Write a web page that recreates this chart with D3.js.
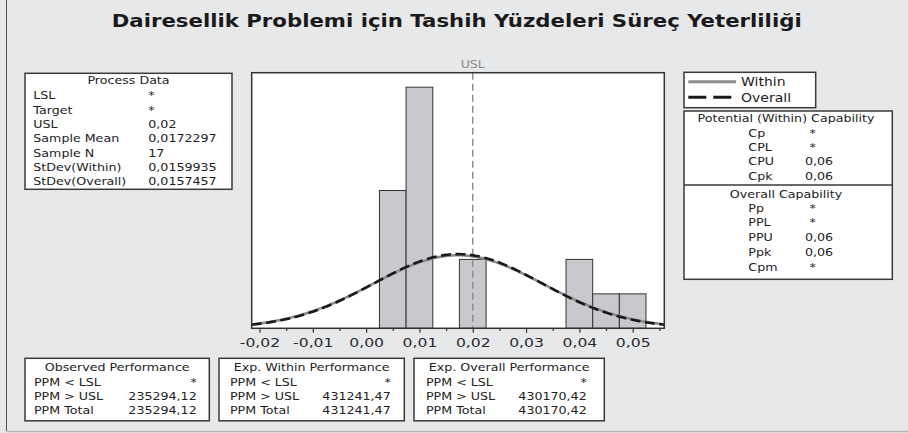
<!DOCTYPE html>
<html>
<head>
<meta charset="utf-8">
<script src="https://cdn.jsdelivr.net/npm/d3@7/dist/d3.min.js"></script>
<style>
  html,body{margin:0;padding:0;background:#e7e8ea;}
  svg{display:block;font-family:"DejaVu Sans",Verdana,sans-serif;}
</style>
</head>
<body>
<svg id="chart" width="908" height="433"></svg>
<script>
// ---------- data ----------
const titleText = "Dairesellik Problemi için Tashih Yüzdeleri Süreç Yeterliliği";
const binMids = [0.005, 0.010, 0.020, 0.040, 0.045, 0.050];
const binCounts = [4, 7, 2, 2, 1, 1];
const binWidth = 0.005;
const usl = 0.02;
const sampleMean = 0.0172297;
const sampleN = 17;
const sdWithin = 0.0159935;
const sdOverall = 0.0157457;
const majorTicks = [-0.02, -0.01, 0.00, 0.01, 0.02, 0.03, 0.04, 0.05];
const majorTickLabels = ["-0,02", "-0,01", "0,00", "0,01", "0,02", "0,03", "0,04", "0,05"];
const minorTicks = [-0.015, -0.005, 0.005, 0.015, 0.025, 0.035, 0.045, 0.055];
const xDomain = [-0.02146, 0.05593];

const processLabels = ["LSL", "Target", "USL", "Sample Mean", "Sample N", "StDev(Within)", "StDev(Overall)"];
const processValues = ["*", "*", "0,02", "0,0172297", "17", "0,0159935", "0,0157457"];

const withinLabels = ["Cp", "CPL", "CPU", "Cpk"];
const withinValues = ["*", "*", "0,06", "0,06"];
const overallLabels = ["Pp", "PPL", "PPU", "Ppk", "Cpm"];
const overallValues = ["*", "*", "0,06", "0,06", "*"];

const perfTitles = ["Observed Performance", "Exp. Within Performance", "Exp. Overall Performance"];
const perfLabels = ["PPM < LSL", "PPM > USL", "PPM Total"];
const perfValues = [
  ["*", "235294,12", "235294,12"],
  ["*", "431241,47", "431241,47"],
  ["*", "430170,42", "430170,42"]
];
const legendLabels = ["Within", "Overall"];

// ---------- helpers ----------
const svg = d3.select("#chart");
const INK = "#222";
const BOXC = "#3a3a3a";

function stext(sel, x, y, str, o = {}) {
  const g = sel.append("g").attr("transform", `translate(${x},${y}) scale(${o.sx || 1.15},1)`);
  return g.append("text")
    .attr("text-anchor", o.anchor || "start")
    .attr("font-size", o.size || 11)
    .attr("font-weight", o.weight || "normal")
    .attr("fill", o.fill || INK)
    .text(str);
}
function box(x, y, w, h) {
  svg.append("rect").attr("x", x).attr("y", y).attr("width", w).attr("height", h)
    .attr("fill", "#fff").attr("stroke", BOXC).attr("stroke-width", 1.5);
}

// page border lines
svg.append("line").attr("x1", 6.5).attr("x2", 6.5).attr("y1", 0).attr("y2", 431)
  .attr("stroke", "#555").attr("stroke-width", 1);
svg.append("line").attr("x1", 6.5).attr("x2", 908).attr("y1", 431.5).attr("y2", 431.5)
  .attr("stroke", "#b5b5b5").attr("stroke-width", 1.5);

// title
svg.append("text").attr("x", 111.7).attr("y", 26.7)
  .attr("font-size", 18.5).attr("font-weight", "bold").attr("fill", "#1a1a1a")
  .attr("textLength", 690).attr("lengthAdjust", "spacingAndGlyphs")
  .text(titleText);

// ---------- histogram ----------
const plot = {left: 251.7, top: 72.7, right: 664.3, bottom: 328.3};
const x = d3.scaleLinear().domain(xDomain).range([plot.left, plot.right]);
const y = d3.scaleLinear().domain([0, d3.max(binCounts) * 1.06]).range([plot.bottom, plot.top]);

svg.append("rect").attr("x", plot.left).attr("y", plot.top)
  .attr("width", plot.right - plot.left).attr("height", plot.bottom - plot.top)
  .attr("fill", "#fff");

svg.append("defs").append("clipPath").attr("id", "clip")
  .append("rect").attr("x", plot.left).attr("y", plot.top)
  .attr("width", plot.right - plot.left).attr("height", plot.bottom - plot.top);

svg.append("g").selectAll("rect").data(binMids).join("rect")
  .attr("x", (d) => x(d - binWidth / 2))
  .attr("width", (d) => x(d + binWidth / 2) - x(d - binWidth / 2))
  .attr("y", (d, i) => y(binCounts[i]))
  .attr("height", (d, i) => y(0) - y(binCounts[i]))
  .attr("fill", "#c8c9cc").attr("stroke", "#333").attr("stroke-width", 1);

// USL line
svg.append("line").attr("x1", x(usl)).attr("x2", x(usl)).attr("y1", plot.top).attr("y2", plot.bottom)
  .attr("stroke", "#8a8a8a").attr("stroke-width", 1.4).attr("stroke-dasharray", "7,4");
stext(svg, x(usl), 68.3, "USL", {anchor: "middle", size: 10.5, fill: "#8a8a8a", sx: 1.2});

// normal curves from the stated parameters
function normalCurve(mu, sd) {
  const scale = sampleN * binWidth;
  const pts = d3.range(0, 241).map(i => {
    const xv = xDomain[0] + (xDomain[1] - xDomain[0]) * i / 240;
    const z = (xv - mu) / sd;
    return [xv, scale * Math.exp(-0.5 * z * z) / (sd * Math.sqrt(2 * Math.PI))];
  });
  return pts;
}
const line = d3.line().x(d => x(d[0])).y(d => y(d[1]));
const cg = svg.append("g").attr("clip-path", "url(#clip)");
cg.append("path").attr("d", line(normalCurve(sampleMean, sdWithin)))
  .attr("fill", "none").attr("stroke", "#8c8c8c").attr("stroke-width", 2.6);
cg.append("path").attr("d", line(normalCurve(sampleMean, sdOverall)))
  .attr("fill", "none").attr("stroke", "#1a1a1a").attr("stroke-width", 2.6)
  .attr("stroke-dasharray", "10,4.5");

// frame
svg.append("rect").attr("x", plot.left).attr("y", plot.top)
  .attr("width", plot.right - plot.left).attr("height", plot.bottom - plot.top)
  .attr("fill", "none").attr("stroke", "#333").attr("stroke-width", 1.5);

// axes
const ax = svg.append("g").attr("transform", `translate(0,${plot.bottom})`)
  .call(d3.axisBottom(x).tickValues(majorTicks).tickSize(4.5).tickSizeOuter(0)
    .tickFormat((d, i) => majorTickLabels[i]));
ax.select(".domain").remove();
ax.selectAll(".tick line").attr("stroke", "#333").attr("stroke-width", 1.2);
ax.selectAll(".tick text").attr("y", 19).attr("dy", 0)
  .attr("font-family", "DejaVu Sans, Verdana, sans-serif")
  .attr("font-size", 12.5).attr("fill", "#2a2a2a")
  .attr("transform", "scale(1.25,1)");
const axm = svg.append("g").attr("transform", `translate(0,${plot.bottom})`)
  .call(d3.axisBottom(x).tickValues(minorTicks).tickSize(2.8).tickSizeOuter(0).tickFormat(""));
axm.select(".domain").remove();
axm.selectAll(".tick line").attr("stroke", "#333").attr("stroke-width", 1.2);

// ---------- Process Data box ----------
box(25, 73.3, 207, 116);
stext(svg, 128.5, 84.3, "Process Data", {anchor: "middle"});
processLabels.forEach((t, i) => {
  const yy = 99.3 + i * 14.3;
  stext(svg, 33.3, yy, t);
  stext(svg, 148.3, yy, processValues[i]);
});

// ---------- legend ----------
box(684, 72.3, 131.7, 35.4);
svg.append("line").attr("x1", 688.3).attr("x2", 736).attr("y1", 81.7).attr("y2", 81.7)
  .attr("stroke", "#8c8c8c").attr("stroke-width", 3);
svg.append("line").attr("x1", 688.3).attr("x2", 736).attr("y1", 97.3).attr("y2", 97.3)
  .attr("stroke", "#1a1a1a").attr("stroke-width", 3).attr("stroke-dasharray", "18,7");
stext(svg, 741, 85.8, legendLabels[0], {size: 11.5, sx: 1.22});
stext(svg, 741, 101.5, legendLabels[1], {size: 11.5, sx: 1.22});

// ---------- capability box ----------
box(684, 111, 208.3, 168.3);
svg.append("line").attr("x1", 684).attr("x2", 892.3).attr("y1", 185).attr("y2", 185)
  .attr("stroke", BOXC).attr("stroke-width", 1.5);
stext(svg, 786, 122.3, "Potential (Within) Capability", {anchor: "middle"});
withinLabels.forEach((t, i) => {
  const yy = 136.7 + i * 14.3;
  stext(svg, 748.3, yy, t);
  stext(svg, withinValues[i] === "*" ? 809.5 : 805, yy, withinValues[i]);
});
stext(svg, 786, 197.7, "Overall Capability", {anchor: "middle"});
overallLabels.forEach((t, i) => {
  const yy = 211.7 + i * 14.7;
  stext(svg, 748.3, yy, t);
  stext(svg, overallValues[i] === "*" ? 809.5 : 805, yy, overallValues[i]);
});

// ---------- performance boxes ----------
const perfBoxes = [
  {x: 25, w: 184.3, lx: 34, vx: 196.7},
  {x: 219, w: 185.3, lx: 230, vx: 390.7},
  {x: 414, w: 190.3, lx: 426, vx: 586.7}
];
perfBoxes.forEach((b, k) => {
  box(b.x, 358.3, b.w, 62.5);
  stext(svg, b.x + b.w / 2, 370.7, perfTitles[k], {anchor: "middle"});
  perfLabels.forEach((t, i) => {
    const yy = 386 + i * 14.2;
    stext(svg, b.lx, yy, t);
    stext(svg, b.vx, yy, perfValues[k][i], {anchor: "end"});
  });
});
</script>
</body>
</html>
